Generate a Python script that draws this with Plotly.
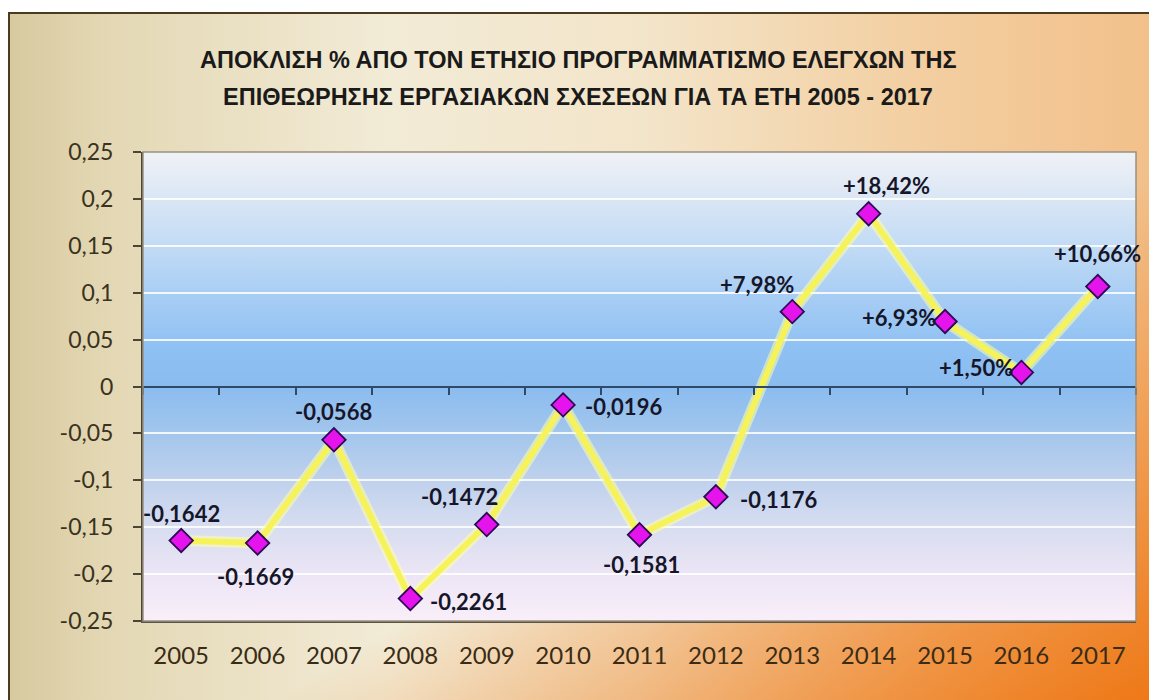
import base64
import plotly.graph_objects as go

# ---------------- data ----------------
years = ["2005", "2006", "2007", "2008", "2009", "2010", "2011",
         "2012", "2013", "2014", "2015", "2016", "2017"]
values = [-0.1642, -0.1669, -0.0568, -0.2261, -0.1472, -0.0196, -0.1581,
          -0.1176, 0.0798, 0.1842, 0.0693, 0.0150, 0.1066]
point_labels = ["-0,1642", "-0,1669", "-0,0568", "-0,2261", "-0,1472", "-0,0196",
                "-0,1581", "-0,1176", "+7,98%", "+18,42%", "+6,93%", "+1,50%", "+10,66%"]
ytick_vals = [0.25, 0.2, 0.15, 0.1, 0.05, 0, -0.05, -0.1, -0.15, -0.2, -0.25]
ytick_text = ["0,25", "0,2", "0,15", "0,1", "0,05", "0", "-0,05", "-0,1", "-0,15", "-0,2", "-0,25"]
title_lines = ["ΑΠΟΚΛΙΣΗ % ΑΠΟ ΤΟΝ ΕΤΗΣΙΟ ΠΡΟΓΡΑΜΜΑΤΙΣΜΟ ΕΛΕΓΧΩΝ ΤΗΣ",
               "ΕΠΙΘΕΩΡΗΣΗΣ ΕΡΓΑΣΙΑΚΩΝ ΣΧΕΣΕΩΝ ΓΙΑ ΤΑ ΕΤΗ 2005 - 2017"]

# ---------------- label placement (style: pixel shifts / anchors) ----------------
label_style = [
    ("center", 0, 27), ("center", -2, -33), ("center", 0, 28), ("left", 18, -3),
    ("center", -27, 28), ("left", 20, -2), ("center", 2, -30), ("left", 22, -3),
    ("center", -35, 27), ("center", 18, 28), ("center", -46, 4), ("center", -45, 5),
    ("center", 0, 33),
]

# ---------------- geometry (page body has an 8px margin) ----------------
OFF = 8
W, H = 1157 - OFF, 700 - OFF
ML, MT = 143 - OFF, 152 - OFF
PR, PB = 1136 - OFF, 621 - OFF          # plot right / bottom in figure px
MR, MB = W - PR, H - PB
PW, PH = W - ML - MR, H - MT - MB


def paper_x(sx):
    return (sx - OFF - ML) / PW


def paper_y(sy):
    return (H - MB - (sy - OFF)) / PH


def svg_uri(svg):
    return "data:image/svg+xml;base64," + base64.b64encode(svg.encode("utf-8")).decode("ascii")


FRAME_X, FRAME_Y = 8, 12   # screen px of the outer frame corner
bw, bh = 1157 - FRAME_X, 700 - FRAME_Y
page_svg = f'''<svg xmlns="http://www.w3.org/2000/svg" width="{bw}" height="{bh}" viewBox="0 0 {bw} {bh}" preserveAspectRatio="none">
<defs>
<linearGradient id="h" x1="0" y1="0" x2="1" y2="0">
<stop offset="0" stop-color="#d7c99f"/>
<stop offset="0.08" stop-color="#e3d7b3"/>
<stop offset="0.33" stop-color="#f2ebd6"/>
<stop offset="0.55" stop-color="#f3e5ca"/>
<stop offset="0.8" stop-color="#f3cea0"/>
<stop offset="1" stop-color="#f2c08a"/>
</linearGradient>
<linearGradient id="d" x1="0.3" y1="0.3" x2="1" y2="1">
<stop offset="0.45" stop-color="#ee7410" stop-opacity="0"/>
<stop offset="1" stop-color="#ee7410" stop-opacity="0.95"/>
</linearGradient>
</defs>
<rect x="0" y="0" width="{bw}" height="{bh}" fill="url(#h)"/>
<rect x="0" y="0" width="{bw}" height="{bh}" fill="url(#d)"/>
<path d="M1 {bh} L1 1 L{bw} 1" stroke="#4a3a1e" stroke-width="2" fill="none"/>
</svg>'''

plot_svg = '''<svg xmlns="http://www.w3.org/2000/svg" width="100" height="100" viewBox="0 0 100 100" preserveAspectRatio="none">
<defs>
<linearGradient id="v" x1="0" y1="0" x2="0" y2="1">
<stop offset="0" stop-color="#f0f2f6"/>
<stop offset="0.1" stop-color="#dae6f5"/>
<stop offset="0.2" stop-color="#c2dbf5"/>
<stop offset="0.3" stop-color="#a9cef4"/>
<stop offset="0.42" stop-color="#8ec0f3"/>
<stop offset="0.5" stop-color="#8abcf0"/>
<stop offset="0.6" stop-color="#a3c6ec"/>
<stop offset="0.7" stop-color="#bfd1ed"/>
<stop offset="0.8" stop-color="#d7ddf0"/>
<stop offset="0.9" stop-color="#ece5f5"/>
<stop offset="1" stop-color="#f9eff9"/>
</linearGradient>
</defs>
<rect x="0" y="0" width="100" height="100" fill="url(#v)"/>
</svg>'''

LABEL_FONT = "Lato, 'Open Sans', sans-serif"

fig = go.Figure()

# glow + yellow line
fig.add_trace(go.Scatter(x=years, y=values, mode="lines",
                         line=dict(color="rgba(255,255,170,0.55)", width=11),
                         hoverinfo="skip", showlegend=False))
fig.add_trace(go.Scatter(x=years, y=values, mode="lines",
                         line=dict(color="#f6f35a", width=6),
                         hoverinfo="skip", showlegend=False))
# markers on the crossing axis
fig.add_trace(go.Scatter(x=years, y=values, mode="markers", xaxis="x2",
                         marker=dict(symbol="diamond", size=18, color="#e614ec",
                                     line=dict(color="#2c0a55", width=1.8)),
                         showlegend=False))

annotations = []
for i, (v, txt, (anc, dx, dy)) in enumerate(zip(values, point_labels, label_style)):
    annotations.append(dict(x=i, y=v, xref="x", yref="y", text=txt, showarrow=False,
                            xanchor=anc, yanchor="middle", xshift=dx, yshift=dy,
                            font=dict(family=LABEL_FONT, size=22, color="#16162a", weight="bold")))

title_y_px = [60, 97]
for line, ty in zip(title_lines, title_y_px):
    annotations.append(dict(x=paper_x(578), y=paper_y(ty), xref="paper", yref="paper",
                            text=line, showarrow=False, xanchor="center", yanchor="middle",
                            font=dict(family="'Liberation Sans', Arial, sans-serif",
                                      size=23.5, color="#1a1a1a", weight="bold")))

fig.update_layout(
    width=W, height=H,
    margin=dict(l=ML, r=MR, t=MT, b=MB, pad=0),
    paper_bgcolor="white",
    plot_bgcolor="rgba(0,0,0,0)",
    showlegend=False,
    annotations=annotations,
    images=[
        dict(source=svg_uri(page_svg), xref="paper", yref="paper",
             x=paper_x(FRAME_X), y=paper_y(FRAME_Y), sizex=bw / PW, sizey=bh / PH,
             xanchor="left", yanchor="top", sizing="stretch", layer="below"),
        dict(source=svg_uri(plot_svg), xref="paper", yref="paper",
             x=0, y=1, sizex=1, sizey=1,
             xanchor="left", yanchor="top", sizing="stretch", layer="below"),
    ],
    shapes=[
        dict(type="rect", xref="paper", yref="paper", x0=0, x1=1, y0=0, y1=1,
             line=dict(color="#9a9080", width=1.5), fillcolor="rgba(0,0,0,0)", layer="above"),
    ],
    xaxis=dict(type="category", range=[-0.5, 12.5], showgrid=False, zeroline=False,
               showline=True, linecolor="#5a5446", linewidth=2, ticks="",
               ticklabelstandoff=12,
               tickfont=dict(family=LABEL_FONT, size=24, color="#3a2c14")),
    xaxis2=dict(type="category", overlaying="x", anchor="free", position=0.5,
                range=[-0.5, 12.5], showgrid=False, zeroline=False, showticklabels=False,
                showline=True, linecolor="#2f4a68", linewidth=2,
                ticks="outside", tickson="boundaries", ticklen=7, tickwidth=2,
                tickcolor="#2f4a68"),
    yaxis=dict(range=[-0.25, 0.25], tickvals=ytick_vals, ticktext=ytick_text,
               showgrid=True, gridcolor="rgba(255,255,255,0.85)", gridwidth=2,
               zeroline=False, showline=True, linecolor="#4b4535", linewidth=2,
               ticks="outside", ticklen=8, tickwidth=2, tickcolor="#4b4535",
               ticklabelstandoff=15,
               tickfont=dict(family=LABEL_FONT, size=23, color="#3a3220")),
)

fig.write_html("out.html")
